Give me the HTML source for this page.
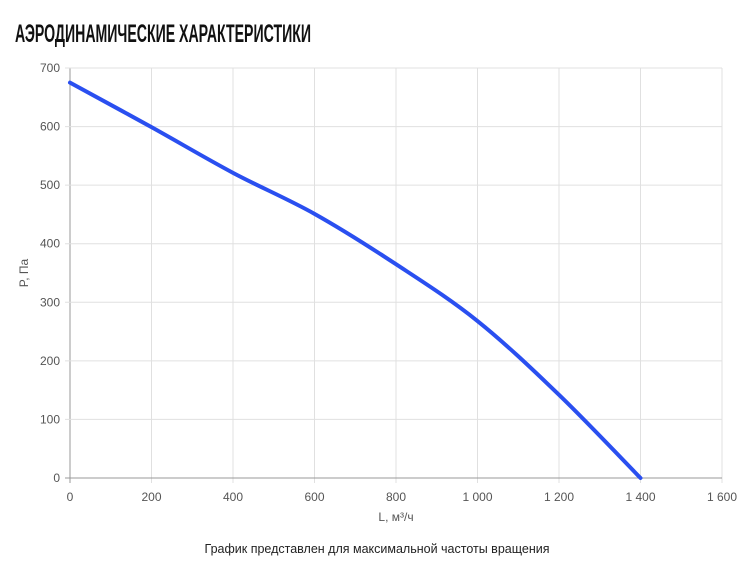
<!DOCTYPE html>
<html><head><meta charset="utf-8"><style>
body{margin:0;background:#fff;width:755px;height:563px;overflow:hidden}
svg{font-family:"Liberation Sans",sans-serif;display:block}
</style></head><body>
<svg width="755" height="563">
<text x="15" y="42" font-size="25" font-weight="bold" textLength="296" lengthAdjust="spacingAndGlyphs" fill="#111">АЭРОДИНАМИЧЕСКИЕ ХАРАКТЕРИСТИКИ</text>
<g id="grid"></g><g id="xt"></g><g id="yt"></g>
<text x="28" y="273" font-size="12" fill="#555" text-anchor="middle" transform="rotate(-90 28 273)">P, Па</text>
<text x="396" y="521" font-size="12" fill="#555" text-anchor="middle">L, м³/ч</text>
<text x="377" y="553" font-size="12.5" fill="#222" text-anchor="middle">График представлен для максимальной частоты вращения</text>
<path id="curve" fill="none" stroke="#2a4ff0" stroke-width="4" stroke-linejoin="round" stroke-linecap="round"/>
</svg>
<script>
const xTicks=[0,200,400,600,800,1000,1200,1400,1600];
const xTickLabels=["0","200","400","600","800","1 000","1 200","1 400","1 600"];
const yTicks=[0,100,200,300,400,500,600,700];
const flowValues=[0,200,400,600,800,1000,1200,1400];
const pressureValues=[675,599,521,451,365,268,142,0];
const X=v=>70+v*(652/1600), Y=v=>478-v*(410/700);
const NS="http://www.w3.org/2000/svg";
const g=document.getElementById('grid'),xt=document.getElementById('xt'),yt=document.getElementById('yt');
function mk(tag,attrs,parent){const e=document.createElementNS(NS,tag);for(const k in attrs)e.setAttribute(k,attrs[k]);parent.appendChild(e);return e;}
xTicks.forEach((v,i)=>{
 const l=mk('line',{x1:X(v),x2:X(v),y1:Y(700),y2:Y(0)+5,stroke:i==0?'#999':'#e0e0e0'},g);
 
 
 const t=mk('text',{x:X(v),y:501,'font-size':12,fill:'#555','text-anchor':'middle'},xt);t.textContent=xTickLabels[i];
 
 
});
yTicks.forEach(v=>{
 const l=mk('line',{x1:X(0)-5,x2:X(1600),y1:Y(v),y2:Y(v),stroke:v==0?'#999':'#e0e0e0'},g);
 
 
 const t=mk('text',{x:60,y:Y(v)+4,'font-size':12,fill:'#555','text-anchor':'end'},yt);t.textContent=v;
 
 
});
const pts=flowValues.map((v,i)=>[X(v),Y(pressureValues[i])]);
let d='M'+pts[0];
for(let i=0;i<pts.length-1;i++){
 const p0=pts[i-1]||pts[i],p1=pts[i],p2=pts[i+1],p3=pts[i+2]||p2;
 const c1=[p1[0]+(p2[0]-p0[0])/6,p1[1]+(p2[1]-p0[1])/6],c2=[p2[0]-(p3[0]-p1[0])/6,p2[1]-(p3[1]-p1[1])/6];
 d+=' C'+c1+' '+c2+' '+p2;
}
document.getElementById('curve').setAttribute('d',d);
</script>
</body></html>
